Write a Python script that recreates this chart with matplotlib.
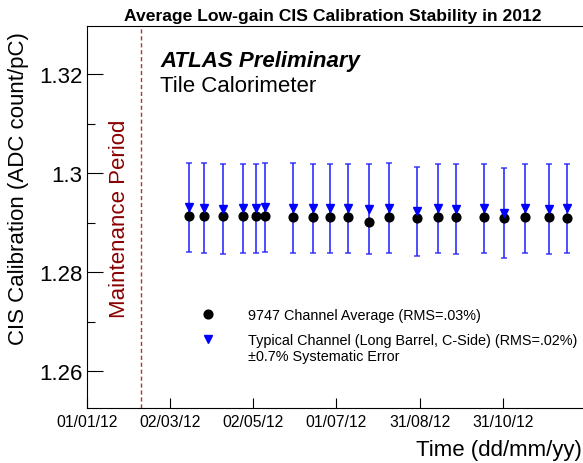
"""Low-gain CIS calibration stability over 2012 (ATLAS Tile Calorimeter)."""

import datetime

import numpy as np
import matplotlib
matplotlib.use("Agg")  # non-interactive backend
import matplotlib.pyplot as plt
import matplotlib.dates as mdates
from matplotlib.lines import Line2D
from matplotlib.ticker import FixedLocator, MultipleLocator, FuncFormatter

plt.rcParams["font.family"] = ["Liberation Sans", "DejaVu Sans"]

# ---- data ----
run_dates = np.array([
    "2012-03-16", "2012-03-27", "2012-04-10", "2012-04-25", "2012-05-04",
    "2012-05-11", "2012-05-31", "2012-06-15", "2012-06-27", "2012-07-10",
    "2012-07-26", "2012-08-09", "2012-08-30", "2012-09-14", "2012-09-27",
    "2012-10-18", "2012-11-01", "2012-11-17", "2012-12-04", "2012-12-17",
], dtype="datetime64[D]")
channel_average = [
    1.2914, 1.2914, 1.2913, 1.2914, 1.2913, 1.2914, 1.2912, 1.2912, 1.2912, 1.2912,
    1.2901, 1.2912, 1.2910, 1.2911, 1.2911, 1.2911, 1.2910, 1.2911, 1.2911, 1.2910,
]
typical_channel = [
    1.2931, 1.2930, 1.2928, 1.2929, 1.2929, 1.2931, 1.2930, 1.2929, 1.2929, 1.2929,
    1.2928, 1.2930, 1.2923, 1.2929, 1.2928, 1.2929, 1.2920, 1.2929, 1.2928, 1.2929,
]
syst_frac = 0.007
maintenance_end = np.datetime64("2012-02-10")

title = "Average Low-gain CIS Calibration Stability in 2012"
label_avg = "9747 Channel Average (RMS=.03%)"
label_typ = "Typical Channel (Long Barrel, C-Side) (RMS=.02%)"
label_sys = "\u00b10.7% Systematic Error"

# ---- figure ----
fig = plt.figure(figsize=(5.83, 4.64), dpi=100)
ax = fig.add_axes([0.1487, 0.1179, 0.8513, 0.8246])

typ = np.array(typical_channel)
ax.errorbar(run_dates, typ, yerr=syst_frac * typ, fmt="none", ecolor="#2020ff",
            elinewidth=1.4, capsize=2.0, capthick=1.2, alpha=0.8, zorder=2)
ax.plot(run_dates, channel_average, "o", color="black", markersize=6.3, zorder=3)
ax.plot(run_dates, typical_channel, "v", color="blue", markersize=6.2, zorder=4)

ax.axvline(maintenance_end, color="#a03c36", lw=1.0, ls=(0, (3, 2)), zorder=1)
ax.text(0.0651, 0.4974, "Maintenance Period", transform=ax.transAxes, rotation=90,
        ha="center", va="center", fontsize=16, color="#8b0000")

# x axis: ROOT-style time axis with equally spaced ticks
x0 = datetime.datetime(2012, 1, 1, 12)
step = datetime.timedelta(days=60.8)
ax.set_xlim(x0, x0 + datetime.timedelta(days=362.5))
ax.xaxis.set_major_locator(FixedLocator([mdates.date2num(x0 + k * step) for k in range(6)]))
ax.xaxis.set_major_formatter(mdates.DateFormatter("%d/%m/%y"))

ax.set_ylim(1.2525, 1.3298)
ax.yaxis.set_major_locator(MultipleLocator(0.02))
ax.yaxis.set_minor_locator(MultipleLocator(0.01))
ax.yaxis.set_major_formatter(FuncFormatter(lambda v, p: f"{v:g}"))

ax.tick_params(axis="x", which="major", direction="in", length=7, width=0.8,
               labelsize=11.3, pad=4, top=False)
ax.tick_params(axis="y", which="major", direction="in", length=11.5, width=0.8,
               labelsize=16, pad=3, right=False)
ax.tick_params(axis="y", which="minor", direction="in", length=5.8, width=0.8, right=False)
ax.tick_params(axis="x", which="minor", bottom=False, top=False)

for side in ("left", "bottom", "top"):
    ax.spines[side].set_linewidth(0.8)
ax.spines["right"].set_visible(False)

ax.set_ylabel("CIS Calibration (ADC count/pC)", fontsize=16, loc="top")
ax.yaxis.label.set_va("center")
ax.yaxis.set_label_coords(-0.1364, 0.986)
ax.set_xlabel("Time (dd/mm/yy)", fontsize=16, loc="right")
ax.xaxis.label.set_va("baseline")
ax.xaxis.set_label_coords(0.9974, -0.121)

fig.text(0.571, 0.9554, title, ha="center", va="baseline", fontsize=12.6, fontweight="bold")
ax.text(0.1477, 0.8955, "ATLAS Preliminary", transform=ax.transAxes, fontsize=16,
        fontweight="bold", fontstyle="italic", va="baseline")
ax.text(0.1477, 0.8301, "Tile Calorimeter", transform=ax.transAxes, fontsize=16,
        va="baseline")

# legend, ROOT-style (no frame); second entry spans two lines
leg_kw = dict(frameon=False, borderpad=0, borderaxespad=0, handlelength=2,
              handletextpad=1.78, fontsize=10.4)
h_avg = Line2D([], [], marker="o", color="black", ls="none", markersize=6.3)
h_typ = Line2D([], [], marker="v", color="blue", ls="none", markersize=6.2)
h_none = Line2D([], [], ls="none", marker="none")
leg1 = ax.legend([h_avg], [label_avg], loc="center left",
                 bbox_to_anchor=(0.216, 0.2446), **leg_kw)
ax.add_artist(leg1)
ax.legend([h_typ, h_none], [label_typ, label_sys], loc="center left",
          bbox_to_anchor=(0.216, 0.1581), labelspacing=0.17, **leg_kw)

fig.savefig("out.png", dpi=100)
